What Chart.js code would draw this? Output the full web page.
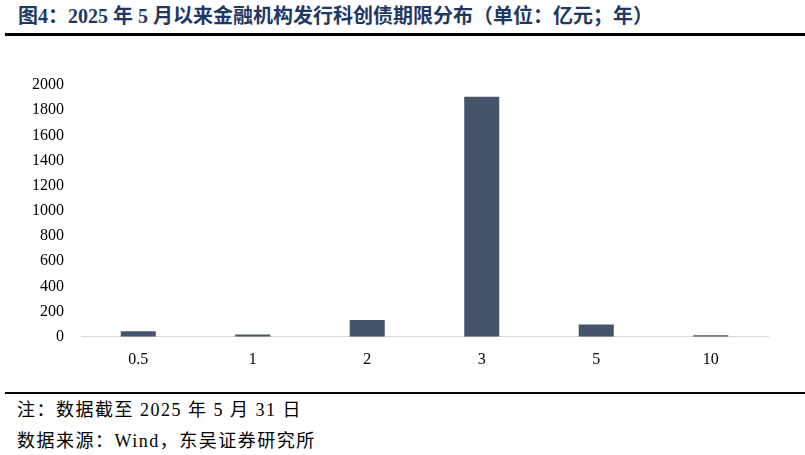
<!DOCTYPE html>
<html>
<head>
<meta charset="utf-8">
<script src="https://cdn.jsdelivr.net/npm/chart.js@4/dist/chart.umd.min.js"></script>
<style>
  html, body { margin: 0; padding: 0; background: #fff; }
  body { width: 805px; height: 455px; position: relative; overflow: hidden; }
  #title {
    position: absolute; left: 18px; top: 5px; line-height: 22px;
    font-family: "Liberation Serif", "Noto Sans CJK SC", serif;
    font-weight: bold; font-size: 20px; color: #1F3864; white-space: nowrap;
  }
  #topRule { position: absolute; left: 5px; right: 0; top: 33px; height: 2.5px; background: #000; }
  #botRule { position: absolute; left: 5px; right: 0; top: 392px; height: 2px; background: #000; }
  .note {
    position: absolute; left: 17px; line-height: 20px;
    font-family: "Liberation Serif", "Noto Sans CJK SC", serif;
    font-size: 18px; letter-spacing: 1.5px; color: #000; white-space: nowrap;
  }
  #chartBox { position: absolute; left: 0; top: 40px; width: 805px; height: 345px; }
</style>
</head>
<body>
<div id="title">图4：2025 年 5 月以来金融机构发行科创债期限分布（单位：亿元；年）</div>
<div id="topRule"></div>
<div id="chartBox"><canvas id="chart"></canvas></div>
<div id="botRule"></div>
<div class="note" style="top:400px">注：数据截至 2025 年 5 月 31 日</div>
<div class="note" style="top:431px">数据来源：Wind，东吴证券研究所</div>
<script>
const terms = ["0.5", "1", "2", "3", "5", "10"];
const amounts = [45, 19, 133, 1907, 98, 13];
const yTicks = [0, 200, 400, 600, 800, 1000, 1200, 1400, 1600, 1800, 2000];

const tickFont = { family: "Liberation Serif", size: 16 };

new Chart(document.getElementById("chart").getContext("2d"), {
  type: "bar",
  data: {
    labels: terms,
    datasets: [{
      data: amounts,
      backgroundColor: "#44546A",
      barPercentage: 0.612,
      categoryPercentage: 0.5
    }]
  },
  options: {
    responsive: true,
    maintainAspectRatio: false,
    animation: false,
    layout: { padding: { left: 15, right: 37, top: 45, bottom: 3 } },
    plugins: { legend: { display: false }, tooltip: { enabled: false } },
    scales: {
      x: {
        grid: { display: false, drawTicks: false },
        border: { display: true, color: "#D9D9D9", width: 1 },
        ticks: { color: "#000", font: tickFont, padding: 13 }
      },
      y: {
        min: 0, max: 2000,
        afterBuildTicks: axis => { axis.ticks = yTicks.map(v => ({ value: v })); },
        grid: { display: false, drawTicks: false },
        border: { display: false },
        ticks: { color: "#000", font: tickFont, padding: 17, callback: v => String(v) }
      }
    }
  }
});
</script>
</body>
</html>
